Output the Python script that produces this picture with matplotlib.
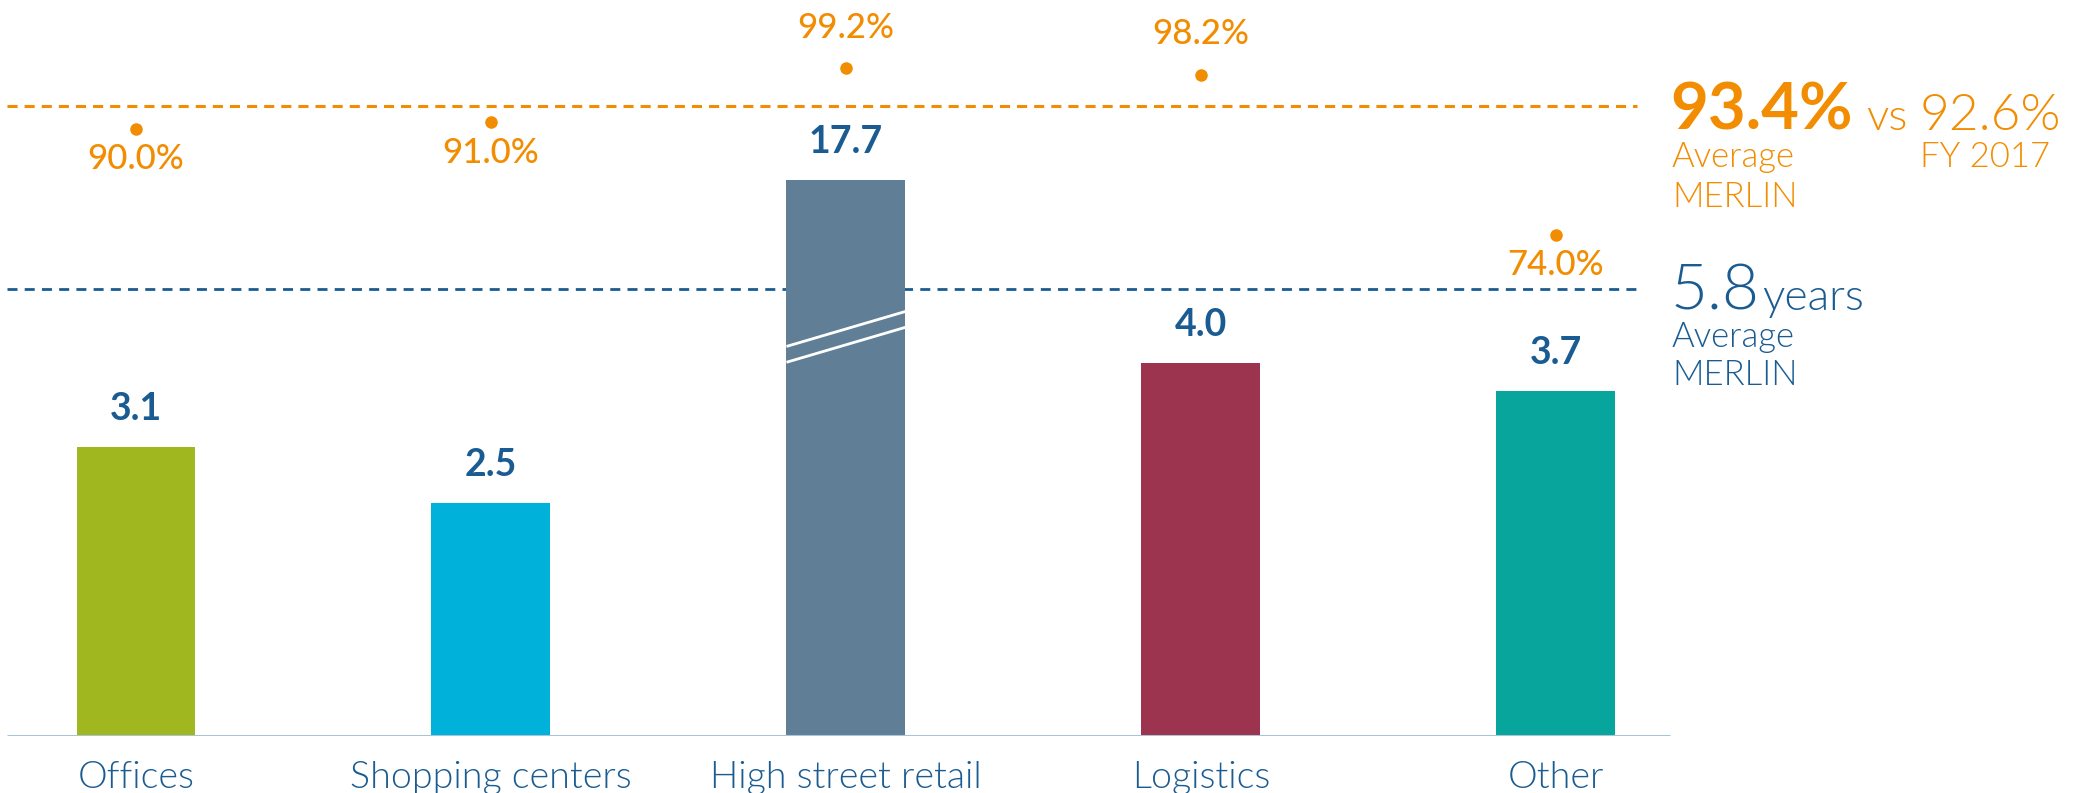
import matplotlib
matplotlib.use("Agg")
import matplotlib.pyplot as plt

plt.rcParams['font.family'] = ['Lato', 'DejaVu Sans']

# data
categories = ["Offices", "Shopping centers", "High street retail", "Logistics", "Other"]
wault_years = [3.1, 2.5, 17.7, 4.0, 3.7]
occupancy = [90.0, 91.0, 99.2, 98.2, 74.0]
occ_label_above = [False, False, True, True, False]
bar_colors = ["#a0b720", "#00b2d9", "#607f97", "#9c344f", "#08a59c"]

avg_occupancy = 93.4
prev_occupancy = 92.6
prev_label = "FY 2017"
avg_wault = 5.8

ORANGE = "#f28c00"
BLUE = "#1a5c92"
W, H = 2087, 793
LIGHT = 300

# styling / layout constants
bar_cap = 5.97          # tall bar is drawn broken at this height
wault_line_y = 4.8      # avg line sits lower than its true value in the source
bar_w = 0.335

fig = plt.figure(figsize=(W / 100, H / 100), dpi=100)
ax = fig.add_axes([0, 57 / H, 1, 736 / H])
ax.set_xlim(-0.383, 5.496)
ax.set_ylim(0, 7.897)
ax.axis('off')

axo = ax.twinx()
axo.set_ylim(-1.83, 109.51)
axo.axis('off')

xs = list(range(len(categories)))
heights = [min(v, bar_cap) for v in wault_years]
ax.bar(xs, heights, width=bar_w, color=bar_colors, zorder=3)

# break marks on truncated bar
for x, v in zip(xs, wault_years):
    if v > bar_cap:
        for y0 in (4.18, 4.01):
            ax.plot([x - bar_w / 2, x + bar_w / 2], [y0, y0 + 0.375],
                    color="white", lw=2.0, zorder=4, solid_capstyle='butt')

# baseline
ax.plot([-0.363, 4.321], [0, 0], color="#a9c4d6", lw=2.2, zorder=5,
        solid_capstyle='butt')

# avg lines
ax.plot([-0.363, 4.228], [wault_line_y, wault_line_y], color=BLUE, lw=2.0,
        dashes=(3.6, 2.6), zorder=1)
axo.plot([-0.363, 4.228], [avg_occupancy, avg_occupancy], color=ORANGE, lw=2.2,
         dashes=(3.3, 2.3), zorder=1)

# value labels
for x, v, h in zip(xs, wault_years, heights):
    ax.annotate("%.1f" % v, (x, h), xytext=(0, 19.5), textcoords='offset points',
                ha='center', va='baseline', fontsize=27, fontweight='bold',
                color=BLUE, zorder=6)

# occupancy dots + labels
axo.plot(xs, occupancy, 'o', color=ORANGE, ms=8, zorder=6)
for x, o, above in zip(xs, occupancy, occ_label_above):
    dy = 22 if above else -29
    axo.annotate("%.1f%%" % o, (x, o), xytext=(0, dy), textcoords='offset points',
                 ha='center', va='baseline', fontsize=25, fontweight='medium',
                 color=ORANGE, zorder=6)

# category labels
for x, c in zip(xs, categories):
    ax.annotate(c, (x, 0), xytext=(0, -37.4), textcoords='offset points',
                ha='center', va='baseline', fontsize=27, fontweight=LIGHT,
                color=BLUE, annotation_clip=False)


def ftext(px, py, s, **kw):
    fig.text(px / W, 1 - py / H, s, va='baseline', ha='left', **kw)


# right-hand annotations
ftext(1670, 130, "%.1f%%" % avg_occupancy, fontsize=47, fontweight='bold', color=ORANGE)
ftext(1866, 130, "vs", fontsize=32, fontweight=LIGHT, color=ORANGE)
ftext(1920, 130, "%.1f%%" % prev_occupancy, fontsize=37, fontweight=LIGHT, color=ORANGE)
ftext(1920, 167, prev_label, fontsize=25, fontweight=LIGHT, color=ORANGE)
ftext(1672, 167, "Average", fontsize=25, fontweight=LIGHT, color=ORANGE)
ftext(1672, 207, "MERLIN", fontsize=25, fontweight=LIGHT, color=ORANGE)

ftext(1670, 310, "%.1f" % avg_wault, fontsize=46, fontweight=LIGHT, color=BLUE)
ftext(1762, 310, "years", fontsize=32, fontweight=LIGHT, color=BLUE)
ftext(1672, 347, "Average", fontsize=25, fontweight=LIGHT, color=BLUE)
ftext(1672, 385, "MERLIN", fontsize=25, fontweight=LIGHT, color=BLUE)

fig.savefig("out.png", dpi=100)
